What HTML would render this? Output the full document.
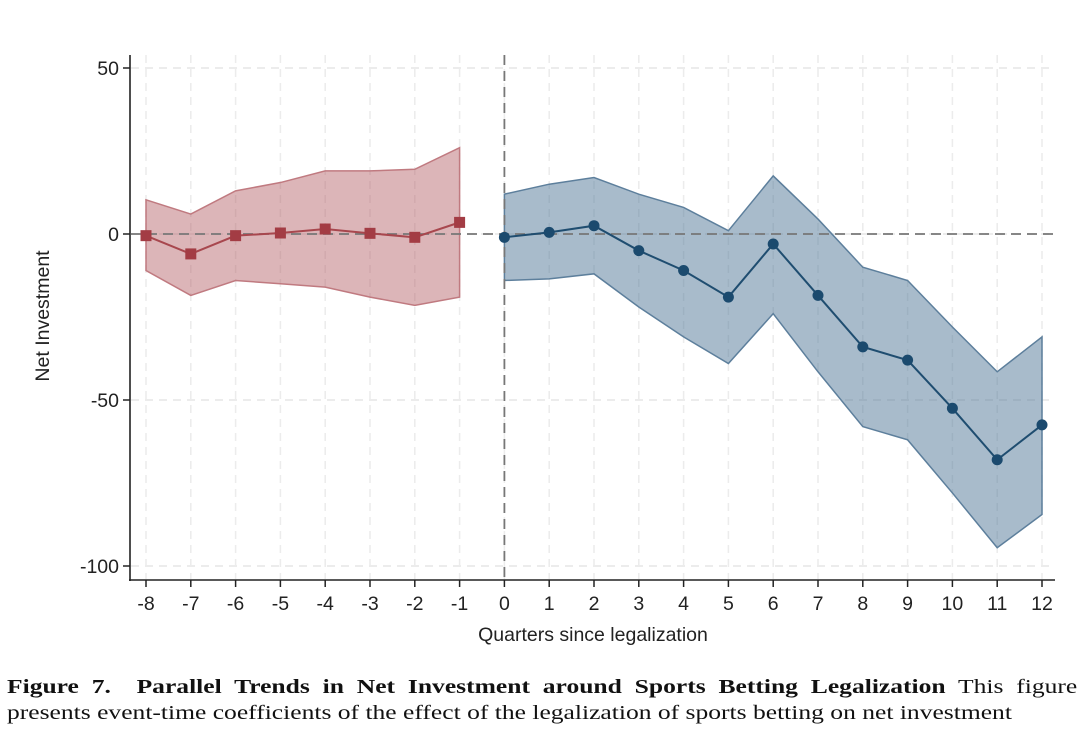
<!DOCTYPE html>
<html><head><meta charset="utf-8">
<style>
body{margin:0;width:1080px;height:733px;background:#fff;overflow:hidden;}
svg{position:absolute;left:0;top:0;}
.cap{position:absolute;left:7px;width:817px;font-family:"Liberation Serif",serif;font-size:19.5px;color:#111;white-space:nowrap;transform:scaleX(1.31);transform-origin:0 0;}
</style></head><body>
<svg id="chart" width="1080" height="660" font-family="Liberation Sans, sans-serif"></svg>
<div class="cap" style="top:677px;text-align:justify;text-align-last:justify;"><b>Figure 7.&nbsp; Parallel Trends in Net Investment around Sports Betting Legalization</b> This figure</div>
<div class="cap" style="top:703px;">presents event-time coefficients of the effect of the legalization of sports betting on net investment</div>
<script>
const preX=[-8,-7,-6,-5,-4,-3,-2,-1];
const preCoef=[-0.5,-6,-0.5,0.3,1.5,0.2,-1,3.5];
const preUpper=[10.3,6,13,15.5,19,19,19.5,26];
const preLower=[-11,-18.5,-14,-15,-16,-19,-21.5,-19];
const postX=[0,1,2,3,4,5,6,7,8,9,10,11,12];
const postCoef=[-1,0.5,2.5,-5,-11,-19,-3,-18.5,-34,-38,-52.5,-68,-57.5];
const postUpper=[12,15,17,12,8,1,17.5,4.5,-10,-14,-28,-41.5,-31];
const postLower=[-14,-13.5,-12,-22,-31,-39,-24,-41.5,-58,-62,-78,-94.5,-84.5];
const xTicks=[-8,-7,-6,-5,-4,-3,-2,-1,0,1,2,3,4,5,6,7,8,9,10,11,12];
const yTicks=[50,0,-50,-100];

const NS='http://www.w3.org/2000/svg';
const svg=document.getElementById('chart');
const sx=v=>504.4+v*44.8;
const sy=v=>234-v*3.32;
function mk(t,a,p){const e=document.createElementNS(NS,t);for(const k in a)e.setAttribute(k,a[k]);(p||svg).appendChild(e);return e;}

yTicks.forEach(v=>{const l=mk('line',{x1:131,x2:1055,y1:sy(v),y2:sy(v),stroke:'#e6e6e6','stroke-width':1.5,'stroke-dasharray':'8,6'});

});
xTicks.forEach(v=>{const l=mk('line',{x1:sx(v),x2:sx(v),y1:55,y2:579,stroke:'#ececec','stroke-width':1.5,'stroke-dasharray':'8,6'});

});

function band(xs,up,lo,fill,stroke,name){
 let pts=xs.map((x,i)=>sx(x)+','+sy(up[i]));
 for(let i=xs.length-1;i>=0;i--)pts.push(sx(xs[i])+','+sy(lo[i]));
 const p=mk('polygon',{points:pts.join(' '),fill:fill,stroke:stroke,'stroke-width':1.5});
 
 
}
band(preX,preUpper,preLower,'rgba(178,90,98,0.45)','#c07a80','pre-confidence-band');
band(postX,postUpper,postLower,'rgba(70,110,145,0.47)','#5d7f9c','post-confidence-band');

const z=mk('line',{x1:131,x2:1055,y1:sy(0),y2:sy(0),stroke:'#777','stroke-width':1.8,'stroke-dasharray':'10,6'});


const v0=mk('line',{x1:sx(0),x2:sx(0),y1:55,y2:579,stroke:'#777','stroke-width':1.8,'stroke-dasharray':'10,6'});



const pl=mk('polyline',{points:preX.map((x,i)=>sx(x)+','+sy(preCoef[i])).join(' '),fill:'none',stroke:'#a8474e','stroke-width':2});


preX.forEach((x,i)=>{const r=mk('rect',{x:sx(x)-5.5,y:sy(preCoef[i])-5.5,width:11,height:11,fill:'#a33c44'});

});
const ql=mk('polyline',{points:postX.map((x,i)=>sx(x)+','+sy(postCoef[i])).join(' '),fill:'none',stroke:'#1f4d70','stroke-width':2});


postX.forEach((x,i)=>{const c=mk('circle',{cx:sx(x),cy:sy(postCoef[i]),r:5.5,fill:'#1b4a6e'});

});

const ya=mk('line',{x1:130,x2:130,y1:55,y2:581,stroke:'#222','stroke-width':1.6});


const xa=mk('line',{x1:129,x2:1055,y1:580,y2:580,stroke:'#222','stroke-width':1.6});


yTicks.forEach(v=>{mk('line',{x1:123,x2:130,y1:sy(v),y2:sy(v),stroke:'#222','stroke-width':1.5});
 const t=mk('text',{x:119,y:sy(v)+7,'text-anchor':'end','font-size':19.5,fill:'#222'});t.textContent=v;
 
 });
xTicks.forEach(v=>{mk('line',{x1:sx(v),x2:sx(v),y1:580,y2:587,stroke:'#222','stroke-width':1.5});
 const t=mk('text',{x:sx(v),y:610,'text-anchor':'middle','font-size':19.5,fill:'#222'});t.textContent=v;
 
 });
const xt=mk('text',{x:593,y:641,'text-anchor':'middle','font-size':19.5,fill:'#222'});xt.textContent='Quarters since legalization';


const yt=mk('text',{x:0,y:0,'text-anchor':'middle','font-size':19.5,fill:'#222',transform:'translate(49,316) rotate(-90)'});yt.textContent='Net Investment';


</script>
</body></html>
